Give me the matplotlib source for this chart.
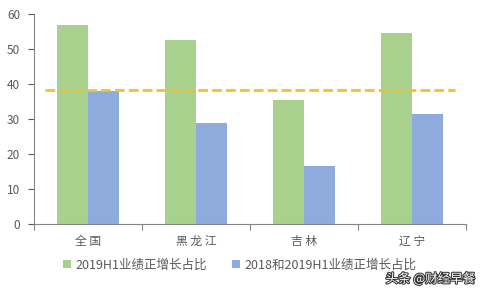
import numpy as np
import matplotlib.pyplot as plt
import matplotlib.patheffects as pe

plt.rcParams['font.family'] = ['Noto Sans CJK SC', 'DejaVu Sans']

regions = ["全国", "黑龙江", "吉林", "辽宁"]
h1_2019 = [56.9, 52.6, 35.4, 54.6]
both_years = [38.0, 28.9, 16.6, 31.4]
avg_line = 38.4
yticks = [0, 10, 20, 30, 40, 50, 60]

green = "#A9D18E"
blue = "#8FAADC"
gold = "#F2C12E"
grey = "#595959"

fig = plt.figure(figsize=(4.8, 2.88), dpi=100)
ax = fig.add_axes([34/480, 1-224/288, 432/480, 210/288])

x = np.arange(len(regions))
w = 0.287
ax.bar(x - w/2, h1_2019, width=w, color=green, label="2019H1业绩正增长占比", zorder=2)
ax.bar(x + w/2, both_years, width=w, color=blue, label="2018和2019H1业绩正增长占比", zorder=2)
ax.plot([-0.4, 3.4], [avg_line, avg_line], color=gold, lw=2, ls=(0, (3.5, 1.5)), zorder=3)

ax.set_xlim(-0.5, 3.5)
ax.set_ylim(0, 60)
ax.set_yticks(yticks)
ax.tick_params(axis='y', labelsize=8.5, colors=grey, length=4, width=0.8, pad=6)
ax.set_xticks(np.arange(-0.5, 4.0, 1.0))
ax.set_xticklabels([])
ax.set_xticks(x, minor=True)
ax.set_xticklabels([" ".join(r) for r in regions], minor=True)
ax.tick_params(axis='x', which='major', length=4, width=0.8, colors="#868686")
ax.tick_params(axis='x', which='minor', length=0, labelsize=8.5, labelcolor=grey, pad=8)
for s in ["top", "right"]:
    ax.spines[s].set_visible(False)
for s in ["left", "bottom"]:
    ax.spines[s].set_color("#868686")
    ax.spines[s].set_linewidth(0.8)

leg = fig.legend(loc="center", bbox_to_anchor=(0.5, 1-265/288), ncol=2, frameon=False,
                 fontsize=9, handlelength=0.6, handleheight=0.6, handletextpad=0.4,
                 columnspacing=2.0)
for t in leg.get_texts():
    t.set_color(grey)

fig.text(0.99, 0.008, "头条 @财经早餐", ha="right", va="bottom", fontsize=9, color="white",
         path_effects=[pe.withStroke(linewidth=1.5, foreground="#333333")])

fig.savefig("out.png", dpi=100)
